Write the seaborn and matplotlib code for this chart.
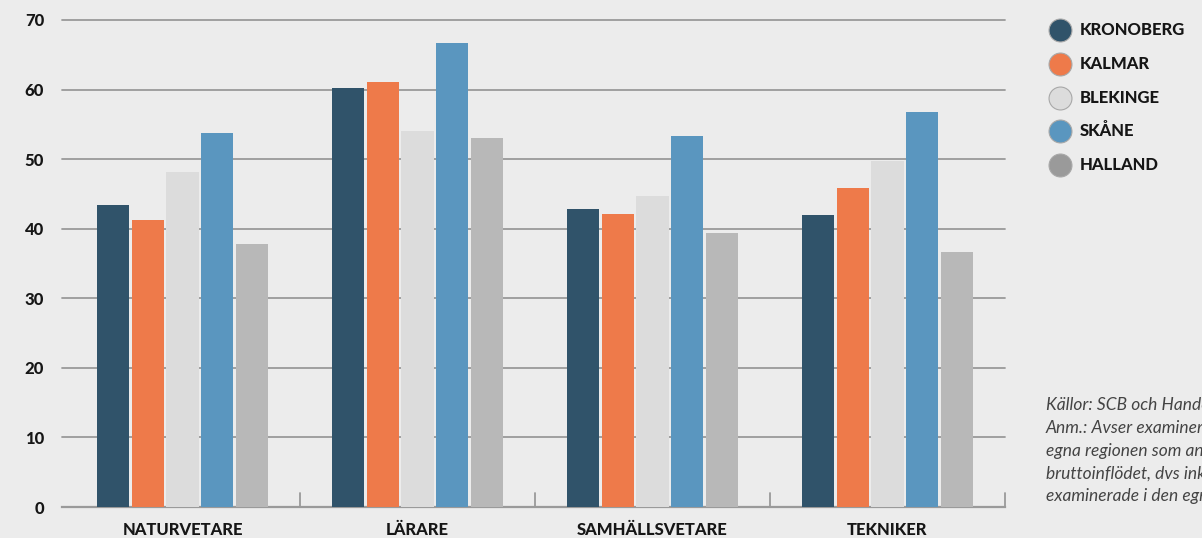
import matplotlib
matplotlib.use("Agg")
import matplotlib.pyplot as plt
from matplotlib.lines import Line2D
import seaborn as sns
import pandas as pd

# Utbildningsgrupper och regioner
categories = ["NATURVETARE", "LÄRARE", "SAMHÄLLSVETARE", "TEKNIKER"]
regions = ["KRONOBERG", "KALMAR", "BLEKINGE", "SKÅNE", "HALLAND"]

kronoberg = [43.4, 60.2, 42.9, 41.9]
kalmar = [41.3, 61.1, 42.1, 45.8]
blekinge = [48.2, 54.0, 44.7, 49.7]
skane = [53.8, 66.7, 53.3, 56.8]
halland = [37.8, 53.0, 39.4, 36.7]

yticks = [0, 10, 20, 30, 40, 50, 60, 70]

notes = [
    "Källor: SCB och Handelskammaren",
    "Anm.: Avser examinerade som stannar",
    "egna regionen som andel av",
    "bruttoinflödet, dvs inklusive",
    "examinerade i den egna regionen.",
]

bar_colors = ["#30536a", "#ee7a4a", "#dcdcdc", "#5a96bf", "#b8b8b8"]
dot_colors = ["#30536a", "#ee7a4a", "#dcdcdc", "#5a96bf", "#9a9a9a"]
bg = "#ececec"
grid_c = "#9a9a9a"
ink = "#161616"

series = [kronoberg, kalmar, blekinge, skane, halland]
df = pd.DataFrame(
    [(c, r, v) for r, vals in zip(regions, series) for c, v in zip(categories, vals)],
    columns=["utbildning", "region", "andel"],
)

sns.set_theme(style="white")
plt.rcParams["font.family"] = ["Lato", "DejaVu Sans"]

W, H = 1202, 538
fig = plt.figure(figsize=(W / 100, H / 100), dpi=100, facecolor=bg)
ax = fig.add_axes([65 / W, 31 / H, 940 / W, 487 / H])
ax.set_facecolor(bg)

sns.barplot(
    data=df, x="utbildning", y="andel", hue="region",
    order=categories, hue_order=regions, palette=bar_colors,
    width=0.74, gap=0.07, linewidth=0, saturation=1,
    legend=False, ax=ax, zorder=3,
)

ax.set_xlim(-0.5, 3.5)
ax.set_ylim(0, 70)
ax.set_yticks(yticks)
ax.set_yticklabels([str(t) for t in yticks], fontsize=12, fontweight="black", color=ink)
for t in yticks[1:]:
    ax.axhline(t, xmin=-3 / 940, xmax=1.0, color=grid_c, lw=1.3, zorder=1, clip_on=False)
ax.tick_params(axis="y", length=0, pad=15)

# category labels centred under each group, boundary ticks between groups
ax.set_xticks(range(len(categories)))
ax.set_xticklabels(categories, fontsize=12, fontweight="black", color=ink)
ax.tick_params(axis="x", length=0, pad=11)
ax.set_xlabel("")
ax.set_ylabel("")
for b in [0.5, 1.5, 2.5, 3.5]:
    ax.plot([b, b], [0, 2.0], color=grid_c, lw=1.3, zorder=2, clip_on=False)

for s in ["top", "right", "left"]:
    ax.spines[s].set_visible(False)
ax.spines["bottom"].set_color(grid_c)
ax.spines["bottom"].set_linewidth(1.6)
ax.spines["bottom"].set_bounds(-0.5 - 3 / 235, 3.5)

# legend: coloured dots with region names
for i, (name, col) in enumerate(zip(regions, dot_colors)):
    yc = 1 - (30 + 33.8 * i) / H
    fig.add_artist(Line2D([1060 / W], [yc], transform=fig.transFigure, marker="o",
                          markersize=16.5, markerfacecolor=col,
                          markeredgecolor="#a8a8a8", markeredgewidth=0.8))
    fig.text(1080 / W, yc, name, fontsize=12, fontweight="black", color=ink,
             va="center", ha="left")

for i, line in enumerate(notes):
    fig.text(1046 / W, 1 - (405 + 22.8 * i) / H, line, fontsize=12.5,
             style="italic", color="#444444", va="center", ha="left")

fig.savefig("out.png", dpi=100, facecolor=bg)
